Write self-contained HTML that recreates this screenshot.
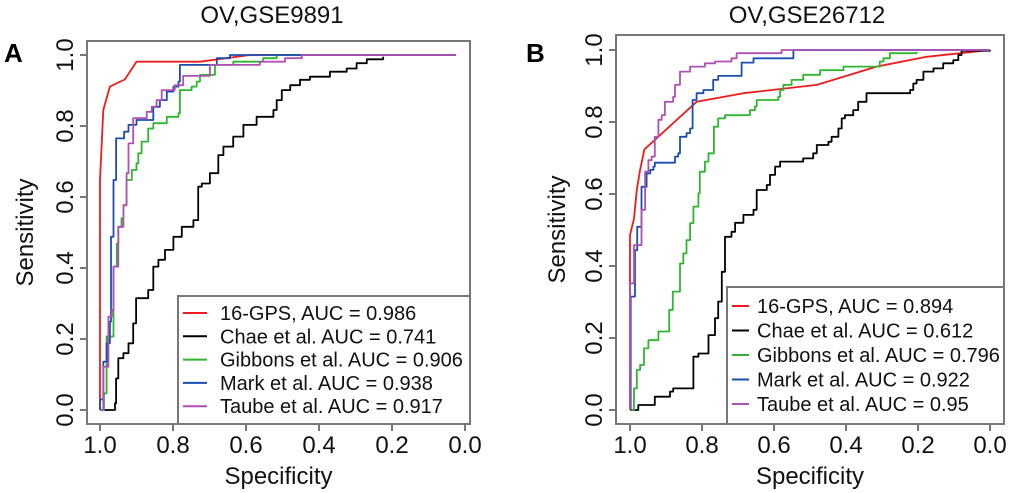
<!DOCTYPE html>
<html><head><meta charset="utf-8"><style>
html,body{margin:0;padding:0;background:#fff;}
svg{display:block;font-family:"Liberation Sans",sans-serif;}
</style></head><body>
<svg id="chart" width="1020" height="493" viewBox="0 0 1020 493"></svg>
<script>
// ---- Panel A data (specificity, sensitivity) ----
const aRedSpec=[1,1,.991,.973,.932,.9,.726,.589,.025];
const aRedSens=[0,.648,.845,.911,.931,.981,.981,1,1];
const aBlackSpec=[1,.963,.959,.956,.950,.936,.922,.909,.901,.868,.854,.840,.822,.799,.776,.744,.731,.721,.699,.676,.662,.635,.607,.571,.525,.516,.502,.479,.452,.425,.370,.324,.297,.269,.224];
const aBlackSens=[0,0,.019,.089,.146,.160,.188,.244,.315,.338,.404,.423,.451,.488,.516,.535,.629,.638,.667,.718,.742,.770,.803,.826,.845,.873,.901,.915,.930,.939,.953,.962,.977,.988,.995];
const aGreenSpec=[1,.991,.989,.984,.982,.974,.963,.954,.950,.941,.936,.927,.913,.900,.895,.886,.872,.868,.854,.826,.817,.785,.781,.749,.735,.726,.689,.685,.635,.553,.516,.025];
const aGreenSens=[0,0,.047,.047,.207,.207,.404,.469,.516,.540,.577,.648,.676,.695,.723,.756,.756,.793,.808,.808,.826,.836,.901,.911,.925,.944,.944,.972,.981,.991,1,1];
const aBlueSpec=[1,1,.991,.982,.973,.970,.963,.956,.945,.934,.922,.911,.900,.872,.854,.836,.817,.799,.785,.781,.717,.68,.644,.025];
const aBlueSens=[0,.03,.136,.188,.249,.488,.648,.765,.765,.784,.803,.803,.817,.817,.854,.873,.897,.911,.925,.972,.972,.991,1,1];
const aMagSpec=[1,.991,.991,.984,.977,.968,.963,.954,.950,.941,.936,.929,.927,.922,.909,.909,.881,.872,.858,.845,.831,.808,.795,.772,.708,.699,.598,.562,.498,.493,.447,.447,.025];
const aMagSens=[0,0,.122,.122,.263,.282,.404,.404,.516,.516,.577,.577,.667,.751,.761,.822,.822,.840,.854,.873,.901,.901,.915,.941,.941,.972,.972,.981,.981,.991,.991,1,1];
const aLegend=["16-GPS, AUC = 0.986","Chae et al. AUC = 0.741","Gibbons et al. AUC = 0.906","Mark et al. AUC = 0.938","Taube et al. AUC = 0.917"];
// ---- Panel B data ----
const bRedSpec=[1,1,1,.989,.981,.972,.960,.815,.685,.481,.315,.176,0];
const bRedSens=[0,.352,.486,.532,.611,.667,.724,.856,.880,.903,.954,.981,1];
const bBlackSpec=[1,.981,.977,.935,.931,.894,.889,.880,.824,.810,.787,.782,.769,.764,.755,.745,.736,.718,.708,.685,.657,.648,.620,.611,.597,.583,.519,.491,.481,.449,.440,.421,.412,.403,.380,.366,.343,.222,.213,.204,.185,.157,.130,.102,.088,.079,0];
const bBlackSens=[0,0,.014,.014,.037,.037,.051,.060,.148,.157,.157,.208,.208,.255,.301,.384,.481,.495,.520,.542,.556,.611,.625,.653,.676,.690,.699,.713,.736,.745,.759,.782,.810,.819,.833,.856,.880,.889,.907,.917,.940,.949,.963,.972,.986,.998,1];
const bGreenSpec=[1,.993,.989,.981,.972,.961,.949,.921,.898,.891,.881,.861,.861,.852,.843,.833,.824,.810,.806,.792,.782,.767,.755,.736,.667,.653,.648,.588,.583,.574,.551,.519,.472,.407,.306,.296,.278,.204];
const bGreenSens=[0,0,.060,.111,.125,.171,.194,.218,.218,.278,.329,.329,.407,.435,.472,.519,.565,.602,.662,.690,.713,.787,.810,.819,.833,.843,.861,.870,.889,.903,.917,.931,.944,.954,.968,.977,.991,.995];
const bBlueSpec=[1,.998,.989,.986,.980,.972,.968,.958,.954,.944,.935,.931,.889,.875,.866,.861,.843,.833,.826,.815,.796,.769,.755,.694,.690,.657,.602,.546,0];
const bBlueSens=[0,.315,.315,.444,.509,.509,.620,.620,.657,.667,.676,.687,.687,.704,.713,.759,.769,.782,.861,.880,.889,.917,.928,.928,.965,.977,.977,1,1];
const bMagSpec=[1,1,.991,.989,.972,.968,.958,.958,.949,.940,.931,.921,.912,.903,.880,.875,.861,.833,.792,.764,.718,.704,.579,0];
const bMagSens=[0,.352,.352,.458,.458,.556,.556,.662,.694,.704,.759,.806,.819,.856,.870,.903,.940,.954,.963,.968,.977,.991,1,1];
const bLegend=["16-GPS, AUC = 0.894","Chae et al. AUC = 0.612","Gibbons et al. AUC = 0.796","Mark et al. AUC = 0.922","Taube et al. AUC = 0.95"];
const ticks=[1.0,0.8,0.6,0.4,0.2,0.0];
const tickLabels=["1.0","0.8","0.6","0.4","0.2","0.0"];
const seriesNames=["16-gps","chae","gibbons","mark","taube"];

const NS="http://www.w3.org/2000/svg";
const svg=document.getElementById('chart');
const colors=["#ee1c1c","#000000","#2fb62f","#1c4eb0","#b050b4"];
function mk(tag,attrs,parent,name,inter){
  const e=document.createElementNS(NS,tag);
  for(const k in attrs)e.setAttribute(k,attrs[k]);
  
  
  (parent||svg).appendChild(e);return e;
}
function panel(cfg){
  const g=mk('g',{},svg,cfg.id,false);
  const xpos=s=>cfg.x0+(1-s)*(cfg.x1-cfg.x0);
  const ys=v=>cfg.yBase-v*(cfg.yBase-cfg.yTop);
  cfg.series.forEach((sr,i)=>{
    let d='';
    for(let j=0;j<sr.spec.length;j++){
      const px=xpos(sr.spec[j]).toFixed(1),py=ys(sr.sens[j]).toFixed(1);
      if(j===0)d+='M'+px+' '+py;
      else if(sr.step){const py0=ys(sr.sens[j-1]).toFixed(1);d+=' L'+px+' '+py0+' L'+px+' '+py;}
      else d+=' L'+px+' '+py;
    }
    mk('path',{d:d,fill:'none',stroke:colors[i],'stroke-width':1.8,'stroke-linejoin':'round'},g,'roc-curve-'+seriesNames[i],false);
  });
  mk('rect',{x:cfg.bx0,y:cfg.by0,width:cfg.bx1-cfg.bx0,height:cfg.by1-cfg.by0,fill:'none',stroke:'#777','stroke-width':2},g,'plot-frame',false);
  ticks.forEach((t,i)=>{
    const px=xpos(t);
    mk('line',{x1:px,y1:cfg.by1,x2:px,y2:cfg.by1+7,stroke:'#777','stroke-width':2},g,'x-tick',false);
    const tx=mk('text',{x:px,y:453,'font-size':24,'text-anchor':'middle',fill:'#111'},g,'x-tick-label',false);
    tx.textContent=tickLabels[i];
  });
  ticks.forEach((t,i)=>{
    const py=ys(t);
    mk('line',{x1:cfg.bx0,y1:py,x2:cfg.bx0-7,y2:py,stroke:'#777','stroke-width':2},g,'y-tick',false);
    const tx=mk('text',{x:0,y:0,'font-size':24,'text-anchor':'middle',fill:'#111',transform:`translate(${cfg.bx0-14},${py}) rotate(-90)`},g,'y-tick-label',false);
    tx.textContent=tickLabels[i];
  });
  const tt=mk('text',{x:cfg.titleX,y:23,'font-size':24,'text-anchor':'middle',fill:'#111'},g,'panel-title',false);tt.textContent=cfg.title;
  const xt=mk('text',{x:(cfg.bx0+cfg.bx1)/2,y:484,'font-size':24,'text-anchor':'middle',fill:'#111'},g,'x-axis-title',false);xt.textContent='Specificity';
  const yt=mk('text',{x:0,y:0,'font-size':24,'text-anchor':'middle',fill:'#111',transform:`translate(${cfg.bx0-cfg.ytOff},${(cfg.by0+cfg.by1)/2}) rotate(-90)`},g,'y-axis-title',false);yt.textContent='Sensitivity';
  const lt=mk('text',{x:cfg.letterX,y:62,'font-size':26,'font-weight':'bold',fill:'#000'},g,'panel-letter',false);lt.textContent=cfg.letter;
  const lg=mk('g',{},g,'legend',false);
  mk('rect',{x:cfg.lx0,y:cfg.ly0,width:cfg.bx1-cfg.lx0,height:cfg.by1-cfg.ly0,fill:'#fff',stroke:'#777','stroke-width':2},lg,'legend-box',false);
  cfg.legend.forEach((s,i)=>{
    const y=cfg.ly0+cfg.lfirst+i*cfg.lstep;
    mk('line',{x1:cfg.lx0+5,y1:y,x2:cfg.lx0+5+cfg.llen,y2:y,stroke:colors[i],'stroke-width':2},lg,'legend-swatch',false);
    const t=mk('text',{x:cfg.lx0+cfg.ltext,y:y+7,'font-size':20,fill:'#111'},lg,'legend-entry',false);t.textContent=s;
  });
}
panel({id:'panel-a',x0:100,x1:465,yBase:410,yTop:55,bx0:87,bx1:470,by0:41,by1:424,title:'OV,GSE9891',titleX:272,letter:'A',letterX:4,ytOff:54,
  lx0:178,ly0:296,lfirst:17,lstep:23.3,llen:24,ltext:42,legend:aLegend,
  series:[{spec:aRedSpec,sens:aRedSens,step:false},{spec:aBlackSpec,sens:aBlackSens,step:true},{spec:aGreenSpec,sens:aGreenSens,step:true},{spec:aBlueSpec,sens:aBlueSens,step:true},{spec:aMagSpec,sens:aMagSens,step:true}]});
panel({id:'panel-b',x0:630,x1:990,yBase:410,yTop:50,bx0:616,bx1:1004,by0:35,by1:424,title:'OV,GSE26712',titleX:807,letter:'B',letterX:526,ytOff:51,
  lx0:727,ly0:287,lfirst:19,lstep:24.5,llen:17,ltext:30,legend:bLegend,
  series:[{spec:bRedSpec,sens:bRedSens,step:false},{spec:bBlackSpec,sens:bBlackSens,step:true},{spec:bGreenSpec,sens:bGreenSens,step:true},{spec:bBlueSpec,sens:bBlueSens,step:true},{spec:bMagSpec,sens:bMagSens,step:true}]});
</script>
</body></html>
